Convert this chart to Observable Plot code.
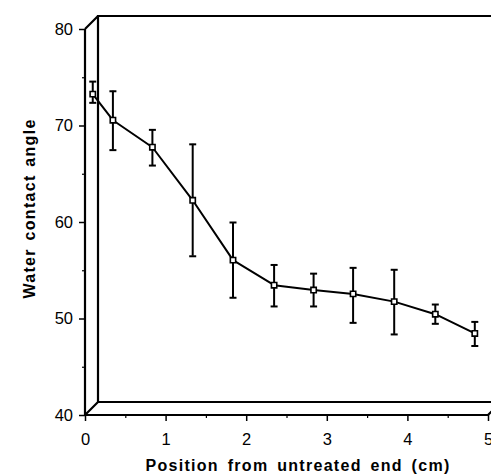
<!DOCTYPE html>
<html><head><meta charset="utf-8">
<script src="https://cdn.jsdelivr.net/npm/d3@7"></script>
<script src="https://cdn.jsdelivr.net/npm/@observablehq/plot@0.6"></script>
<style>html,body{margin:0;padding:0;background:#fff}#chart svg{display:block}</style>
</head><body><div id="chart"></div>
<script>
const positions = [0.09, 0.34, 0.83, 1.33, 1.83, 2.34, 2.83, 3.32, 3.83, 4.34, 4.83];
const angles    = [73.3, 70.6, 67.8, 62.3, 56.1, 53.5, 53.0, 52.6, 51.8, 50.5, 48.5];
const errLow    = [72.4, 67.5, 65.9, 56.5, 52.2, 51.3, 51.3, 49.6, 48.4, 49.5, 47.2];
const errHigh   = [74.6, 73.6, 69.6, 68.1, 60.0, 55.6, 54.7, 55.3, 55.1, 51.5, 49.7];
const yTicks = [40, 50, 60, 70, 80];
const yMinorTicks = [45, 55, 65, 75];
const xTicks = [0, 1, 2, 3, 4, 5];
const xMinorTicks = [0.5, 1.5, 2.5, 3.5, 4.5];
const xTitle = "Position from untreated end (cm)";
const yTitle = "Water contact angle";

const data = positions.map((x, i) => ({x, y: angles[i], lo: errLow[i], hi: errHigh[i]}));
const DEPTH = 13;

const capSymbol = {draw(ctx, size) { const w = Math.sqrt(size / Math.PI); ctx.moveTo(-w, 0); ctx.lineTo(w, 0); }};

function frame(index, {x, y}) {
  const x0 = x(0), x5 = x(5), yT = y(80), yB = y(40), D = DEPTH;
  const p = d3.path();
  p.moveTo(x5 + D, yT - D); p.lineTo(x0 + D, yT - D); p.lineTo(x0 + D, yB - D); p.lineTo(x5 + D, yB - D);
  p.moveTo(x0, yT); p.lineTo(x0 + D, yT - D);
  p.moveTo(x0, yB); p.lineTo(x0 + D, yB - D);
  p.moveTo(x5, yB); p.lineTo(x5 + D, yB - D);
  p.moveTo(x0, yT); p.lineTo(x0, yB); p.lineTo(x5, yB);
  const g = d3.create("svg:g");
  g.append("path").attr("d", p.toString()).attr("fill", "none").attr("stroke", "#000")
    .attr("stroke-width", 2.2).attr("stroke-linejoin", "miter");
  return g.node();
}

const chart = Plot.plot({
  width: 491, height: 474,
  marginLeft: 85, marginRight: 3, marginTop: 29, marginBottom: 59,
  style: {fontFamily: "'Liberation Sans', Arial, sans-serif", fontSize: "16.5px", background: "#fff", color: "#000"},
  x: {domain: [0, 5]},
  y: {domain: [40, 80]},
  marks: [
    frame,
    Plot.axisY(yTicks, {tickSize: 6, tickPadding: 6.5, strokeWidth: 1.5, label: null}),
    Plot.axisY(yMinorTicks, {tickSize: 3, text: null, strokeWidth: 1.2, label: null}),
    Plot.axisX(xTicks, {tickSize: 6, tickPadding: 12, strokeWidth: 1.5, label: null}),
    Plot.axisX(xMinorTicks, {tickSize: 3, text: null, strokeWidth: 1.2, label: null}),
    Plot.line(data, {x: "x", y: "y", stroke: "#000", strokeWidth: 2}),
    Plot.ruleX(data, {x: "x", y1: "lo", y2: "hi", stroke: "#000", strokeWidth: 2}),
    Plot.dot(data, {x: "x", y: "lo", symbol: capSymbol, r: 3.5, stroke: "#000", strokeWidth: 2}),
    Plot.dot(data, {x: "x", y: "hi", symbol: capSymbol, r: 3.5, stroke: "#000", strokeWidth: 2}),
    Plot.dot(data, {x: "x", y: "y", symbol: "square", r: 3, fill: "#fff", stroke: "#000", strokeWidth: 1.6}),
    Plot.text([xTitle], {frameAnchor: "bottom", textAnchor: "middle", lineAnchor: "middle", dy: 50, dx: 11, fontWeight: "bold", fontSize: 16}),
    Plot.text([yTitle], {frameAnchor: "left", textAnchor: "middle", lineAnchor: "middle", rotate: -90, dx: -56, dy: -14, fontWeight: "bold", fontSize: 16})
  ]
});
document.getElementById("chart").appendChild(chart);
d3.select(chart).selectAll("text").each(function() {
  const t = this.textContent;
  if (t === xTitle) d3.select(this).attr("letter-spacing", "1.3px").attr("word-spacing", "3px");
  if (t === yTitle) d3.select(this).attr("letter-spacing", "1.3px").attr("word-spacing", "2px");
});
</script>
</body></html>
